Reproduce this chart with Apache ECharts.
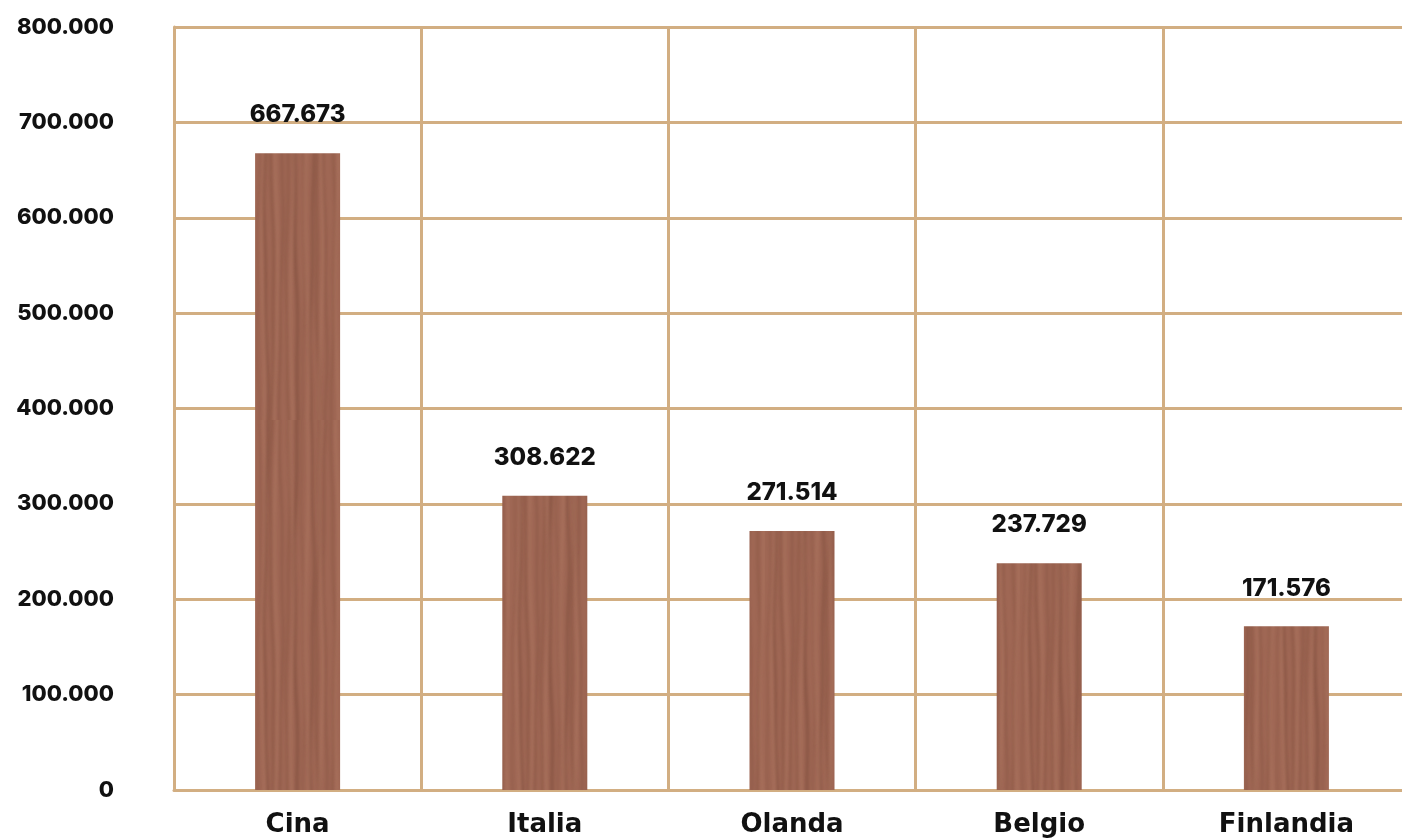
<!DOCTYPE html>
<html>
<head>
<meta charset="utf-8">
<script src="https://cdn.jsdelivr.net/npm/echarts@6/dist/echarts.min.js"></script>
<style>
  html, body { margin: 0; padding: 0; background: #ffffff; }
  #chart { width: 1402px; height: 840px; }
</style>
</head>
<body>
<div id="chart"></div>
<script>
// Countries and their values
const categories = ['Cina', 'Italia', 'Olanda', 'Belgio', 'Finlandia'];
const values = [667673, 308622, 271514, 237729, 171576];
const yTicks = [0, 100000, 200000, 300000, 400000, 500000, 600000, 700000, 800000];

// Italian-style thousands separator: 667673 -> "667.673"
function fmt(v) {
  return String(Math.round(v)).replace(/\B(?=(\d{3})+(?!\d))/g, '.');
}

// Soft wood-grain texture for the bars, drawn on an offscreen canvas
function woodPattern() {
  const w = 85, h = 420;
  const c = document.createElement('canvas');
  c.width = w; c.height = h;
  const ctx = c.getContext('2d');
  ctx.fillStyle = '#9f6754';
  ctx.fillRect(0, 0, w, h);
  ctx.filter = 'blur(1.6px)';
  // long darker grain lines with a gentle waver
  const darkCols = [4, 11, 17, 26, 33, 41, 48, 57, 63, 70, 78];
  darkCols.forEach((x0, i) => {
    ctx.strokeStyle = i % 2 ? 'rgba(110,64,48,0.45)' : 'rgba(120,72,55,0.35)';
    ctx.lineWidth = 1.5 + (i % 3) * 0.8;
    ctx.beginPath();
    for (let y = -10; y <= h + 10; y += 10) {
      const x = x0 + Math.sin(y * 0.015 + i * 1.7) * 1.6 + Math.sin(y * 0.05 + i) * 0.6;
      if (y === -10) ctx.moveTo(x, y); else ctx.lineTo(x, y);
    }
    ctx.stroke();
  });
  // lighter bands between grains
  const lightCols = [8, 21, 37, 52, 66, 82];
  lightCols.forEach((x0, i) => {
    ctx.strokeStyle = 'rgba(184,128,106,0.35)';
    ctx.lineWidth = 3;
    ctx.beginPath();
    for (let y = -10; y <= h + 10; y += 10) {
      const x = x0 + Math.sin(y * 0.02 + i * 2.3) * 1.8;
      if (y === -10) ctx.moveTo(x, y); else ctx.lineTo(x, y);
    }
    ctx.stroke();
  });
  ctx.filter = 'none';
  return c;
}

const tan = '#d2ae82';
const numFont = 'Inter, "Noto Sans", "DejaVu Sans", sans-serif';
const catFont = '"DejaVu Sans", Inter, sans-serif';

const chart = echarts.init(document.getElementById('chart'));
chart.setOption({
  animation: false,
  // plot area runs slightly past the right edge so its closing line is off-canvas
  grid: { left: 174, top: 27, width: 1236, height: 763, containLabel: false, outerBoundsMode: 'none' },
  xAxis: {
    type: 'category',
    data: categories,
    boundaryGap: true,
    axisLine: { show: true, lineStyle: { color: tan, width: 3 } },
    axisTick: { show: false },
    splitLine: { show: true, lineStyle: { color: tan, width: 3 } },
    axisLabel: {
      color: '#111111', fontSize: 26, fontWeight: 'bold', fontFamily: catFont,
      margin: 22, interval: 0
    }
  },
  yAxis: {
    type: 'value',
    min: yTicks[0],
    max: yTicks[yTicks.length - 1],
    interval: yTicks[1] - yTicks[0],
    axisLine: { show: true, lineStyle: { color: tan, width: 3 } },
    axisTick: { show: false },
    splitLine: { show: true, lineStyle: { color: tan, width: 3 } },
    axisLabel: {
      color: '#111111', fontSize: 22, fontWeight: 800, fontFamily: numFont,
      margin: 60, formatter: fmt
    }
  },
  series: [{
    type: 'bar',
    data: values,
    barWidth: 85,
    itemStyle: { color: { image: woodPattern(), repeat: 'repeat' } },
    label: {
      show: true, position: 'top', distance: 26,
      color: '#111111', fontSize: 24, fontWeight: 800, fontFamily: numFont,
      formatter: p => fmt(p.value)
    }
  }]
});
</script>
</body>
</html>
